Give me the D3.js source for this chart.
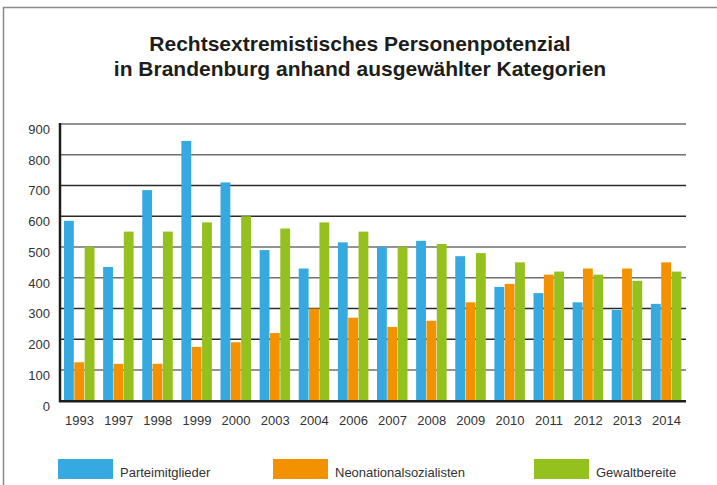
<!DOCTYPE html>
<html>
<head>
<meta charset="utf-8">
<script src="https://cdn.jsdelivr.net/npm/d3@7"></script>
<style>
  body { margin: 0; background: #fff; }
  svg { display: block; font-family: "Liberation Sans", Arial, sans-serif; }
</style>
</head>
<body>
<svg id="canvas" width="717" height="485"></svg>
<script>
let years = ['1993','1997','1998','1999','2000','2003','2004','2006','2007','2008','2009','2010','2011','2012','2013','2014']
let parteimitglieder = [585, 435, 685, 845, 710, 490, 430, 515, 500, 520, 470, 370, 350, 320, 295, 315]
let neonationalsozialisten = [125, 120, 120, 175, 190, 220, 300, 270, 240, 260, 320, 380, 410, 430, 430, 450]
let gewaltbereite = [500, 550, 550, 580, 600, 560, 580, 550, 500, 510, 480, 450, 420, 410, 390, 420]
let seriesNames = ['Parteimitglieder', 'Neonationalsozialisten', 'Gewaltbereite']
let seriesColors = ['#36a9e1', '#f39200', '#95c11f']
let yTicks = [0, 100, 200, 300, 400, 500, 600, 700, 800, 900]

let canvas = d3.select('#canvas')

let rows = years.map((y, i) => {
    return { year: y, values: [parteimitglieder[i], neonationalsozialisten[i], gewaltbereite[i]] }
})

// frame
canvas.append('path')
    .attr('d', 'M3.5,490 L3.5,7.5 L720,7.5')
    .attr('fill', 'none')
    .attr('stroke', '#8a8a8a')
    .attr('stroke-width', 1.5)

// title
let title = canvas.append('text')
    .attr('text-anchor', 'middle')
    .attr('font-weight', 'bold')
    .attr('font-size', 21)
    .attr('fill', '#1d1d1b')
title.append('tspan').attr('x', 360).attr('y', 51).text('Rechtsextremistisches Personenpotenzial')
title.append('tspan').attr('x', 360).attr('y', 75.5).text('in Brandenburg anhand ausgewählter Kategorien')

let xScale = d3.scaleBand()
    .domain(years)
    .range([60, 686])

let inner = d3.scaleBand()
    .domain(seriesNames)
    .range([4, 35])

let yScale = d3.scaleLinear()
    .domain([0, 900])
    .range([400.7, 124])

// gridlines
canvas.selectAll('.grid')
    .data(yTicks.filter(t => t > 0))
    .enter()
    .append('line')
    .attr('class', 'grid')
    .attr('x1', 60)
    .attr('x2', 686)
    .attr('y1', d => yScale(d))
    .attr('y2', d => yScale(d))
    .attr('stroke', (d, i) => (i % 4 === 0 || i % 4 === 3) ? '#6f6f6f' : '#2b2b2b')
    .attr('stroke-width', 1.4)

// y tick labels
canvas.selectAll('.ylab')
    .data(yTicks)
    .enter()
    .append('text')
    .attr('class', 'ylab')
    .attr('x', 50)
    .attr('y', d => yScale(d) + 10)
    .attr('text-anchor', 'end')
    .attr('font-size', 13)
    .attr('fill', '#333')
    .text(d => d)

// bars
let block = canvas.selectAll('.group')
    .data(rows)
    .enter()
    .append('g')
    .attr('class', 'group')
    .attr('transform', d => 'translate(' + xScale(d.year) + ',0)')

block.selectAll('rect')
    .data(d => d.values.map((v, i) => ({ name: seriesNames[i], value: v, color: seriesColors[i] })))
    .enter()
    .append('rect')
    .attr('x', d => inner(d.name))
    .attr('width', inner.bandwidth() - 0.5)
    .attr('y', d => yScale(d.value))
    .attr('height', d => yScale(0) - yScale(d.value))
    .attr('fill', d => d.color)

// axes lines
canvas.append('line')
    .attr('x1', 60).attr('x2', 60)
    .attr('y1', 123).attr('y2', 402)
    .attr('stroke', '#1d1d1b')
    .attr('stroke-width', 2.5)
canvas.append('line')
    .attr('x1', 59).attr('x2', 686)
    .attr('y1', yScale(0) + 0.5).attr('y2', yScale(0) + 0.5)
    .attr('stroke', '#1d1d1b')
    .attr('stroke-width', 2.5)

// x labels
canvas.selectAll('.xlab')
    .data(years)
    .enter()
    .append('text')
    .attr('class', 'xlab')
    .attr('x', d => xScale(d) + xScale.bandwidth() / 2)
    .attr('y', 424.5)
    .attr('text-anchor', 'middle')
    .attr('font-size', 13)
    .attr('fill', '#333')
    .text(d => d)

// legend
let legendX = [58, 273, 534]
let legend = canvas.selectAll('.legend')
    .data(seriesNames)
    .enter()
    .append('g')
    .attr('class', 'legend')
    .attr('transform', (d, i) => 'translate(' + legendX[i] + ',459)')

legend.append('rect')
    .attr('width', 55)
    .attr('height', 20)
    .attr('fill', (d, i) => seriesColors[i])

legend.append('text')
    .attr('x', 62)
    .attr('y', 18)
    .attr('font-size', 13)
    .attr('fill', '#333')
    .text(d => d)
</script>
</body>
</html>
